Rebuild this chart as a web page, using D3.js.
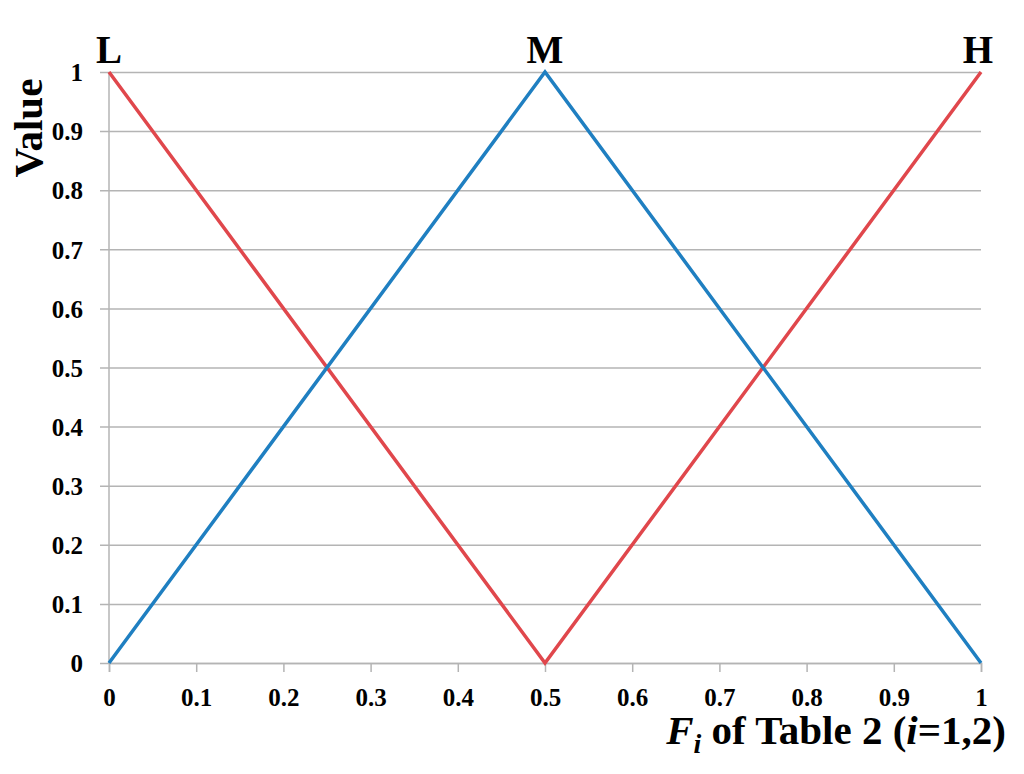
<!DOCTYPE html>
<html>
<meta charset="utf-8">
<style>
  body { margin: 0; background: #fff; }
  svg { width: 1024px; height: 774px; display: block; }
  text { font-family: "Liberation Serif", "Times New Roman", serif; font-weight: bold; fill: #000; }
  .axis .tick text { font-family: "Liberation Serif", serif !important; font-size: 25px !important; font-weight: bold; }
</style>
<body>
  <svg></svg>
</body>
<script src="https://cdn.jsdelivr.net/npm/d3@7"></script>
<script>
  var margin = {top: 72, right: 43, bottom: 111, left: 109},
    width = 1024 - margin.left - margin.right,
    height = 774 - margin.top - margin.bottom;

  var svg = d3.select("svg")
    .append("g").attr("transform", "translate(" + margin.left + "," + margin.top + ")");

  // data
  var xTicks = [0, 0.1, 0.2, 0.3, 0.4, 0.5, 0.6, 0.7, 0.8, 0.9, 1];
  var yTicks = [0, 0.1, 0.2, 0.3, 0.4, 0.5, 0.6, 0.7, 0.8, 0.9, 1];
  var lowHighX = [0, 0.5, 1];
  var lowHighY = [1, 0, 1];
  var midX = [0, 0.5, 1];
  var midY = [0, 1, 0];
  var termLabels = ["L", "M", "H"];
  var termPos = [0, 0.5, 1];

  var xScale = d3.scaleLinear().domain([0, 1]).range([0, width]);
  var yScale = d3.scaleLinear().domain([0, 1]).range([height, 0]);

  // gridlines + y labels
  svg.append("g")
    .attr("class", "y axis")
    .attr("transform", "translate(-9,0)")
    .call(d3.axisLeft(yScale).tickValues(yTicks).tickSize(0).tickFormat(d3.format("")))
    .call(function(g) {
      g.select(".domain").remove();
      g.selectAll(".tick line").attr("stroke", "#b4b4b4").attr("stroke-width", 1.5).attr("x2", width + 9);
      g.selectAll(".tick text").attr("x", -17).attr("dy", "0.35em");
    });

  // left axis line
  svg.append("line")
    .attr("x1", 0).attr("x2", 0).attr("y1", 0).attr("y2", height)
    .attr("stroke", "#b4b4b4").attr("stroke-width", 1.5);

  // x axis
  svg.append("g")
    .attr("class", "x axis")
    .attr("transform", "translate(0," + height + ")")
    .call(d3.axisBottom(xScale).tickValues(xTicks).tickSize(9).tickFormat(d3.format("")))
    .call(function(g) {
      g.select(".domain").attr("stroke", "#b4b4b4").attr("stroke-width", 1.5);
      g.selectAll(".tick line").attr("stroke", "#b4b4b4").attr("stroke-width", 1.5);
      g.selectAll(".tick text").attr("y", 43).attr("dy", null);
    });

  var line = d3.line()
    .x(function(d) { return xScale(d[0]); })
    .y(function(d) { return yScale(d[1]); });

  svg.append("path")
    .datum(lowHighX.map(function(x, i) { return [x, lowHighY[i]]; }))
    .attr("d", line)
    .attr("fill", "none")
    .attr("stroke", "#e0474c")
    .attr("stroke-width", 3.5);

  svg.append("path")
    .datum(midX.map(function(x, i) { return [x, midY[i]]; }))
    .attr("d", line)
    .attr("fill", "none")
    .attr("stroke", "#1f7fc1")
    .attr("stroke-width", 3.5);

  // L M H labels
  svg.selectAll(".term")
    .data(termLabels)
    .enter().append("text")
      .attr("class", "term")
      .attr("x", function(d, i) { return xScale(termPos[i]) - (i === 2 ? 3 : 0); })
      .attr("y", -9)
      .attr("text-anchor", "middle")
      .style("font-size", "39px")
      .text(function(d) { return d; });

  // y title
  svg.append("text")
    .attr("transform", "translate(-67,56) rotate(-90)")
    .attr("text-anchor", "middle")
    .style("font-size", "41px")
    .text("Value");

  // x title
  var xt = svg.append("text")
    .attr("x", width + 25)
    .attr("y", height + 81)
    .attr("text-anchor", "end")
    .style("font-size", "41px");
  xt.append("tspan").style("font-style", "italic").text("F");
  xt.append("tspan").style("font-style", "italic").style("font-size", "28px").attr("dy", 9).text("i");
  xt.append("tspan").attr("dy", -9).text(" of Table 2 (");
  xt.append("tspan").style("font-style", "italic").text("i");
  xt.append("tspan").text("=1,2)");
</script>
</html>
